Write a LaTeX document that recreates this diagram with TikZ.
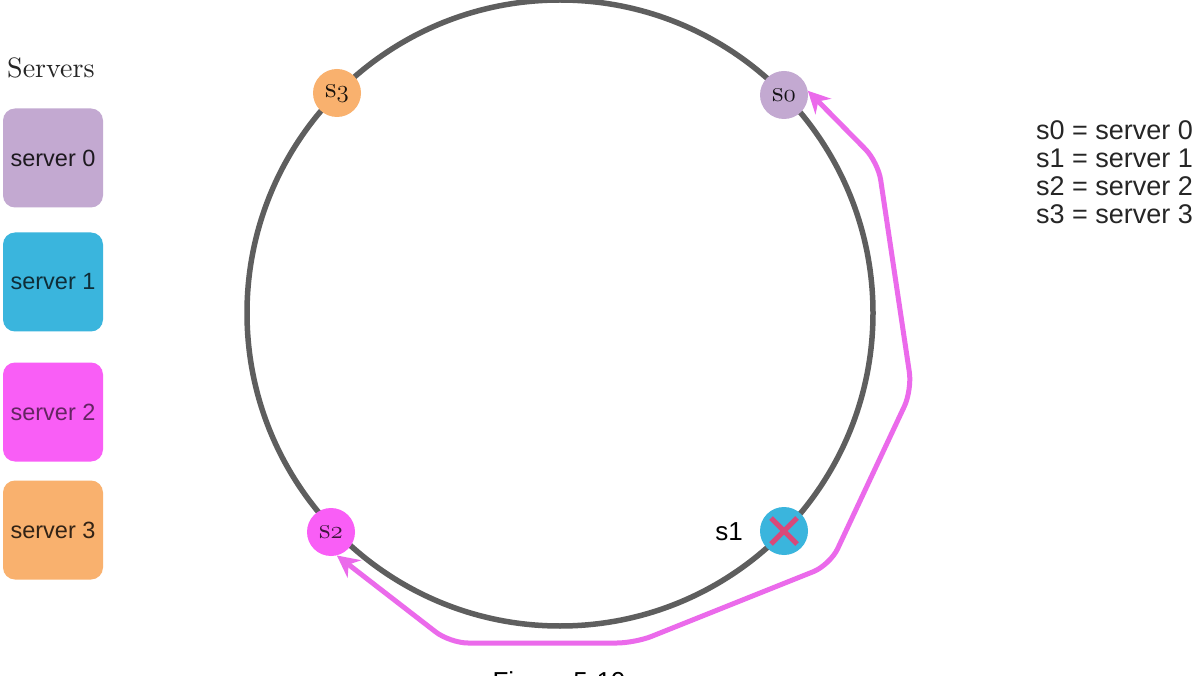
\documentclass[tikz,border=0pt]{standalone}
\usepackage{fontspec}
\newfontfamily\sansf{Liberation Sans}
\newfontfamily\lmten{lmroman10-regular}[Extension=.otf]
\newcommand{\osd}[1]{{\usefont{OML}{cmm}{m}{it}#1}}
\usetikzlibrary{arrows.meta}
\definecolor{clav}{HTML}{C3A9D1}
\definecolor{ccyan}{HTML}{3AB5DD}
\definecolor{cmag}{HTML}{F95EF6}
\definecolor{corg}{HTML}{F9B16E}
\definecolor{cring}{HTML}{5E5E5E}
\definecolor{carrow}{HTML}{EB6AEB}
\definecolor{ccross}{HTML}{D8497A}
\begin{document}
\begin{tikzpicture}[x=1pt,y=-1pt,
  srvbox/.style={rounded corners=12pt, minimum width=100pt, minimum height=99pt, inner sep=0pt,
    font=\sansf\fontsize{23.5}{26}\selectfont},
  ringnode/.style={circle, minimum size=48pt, inner sep=0pt, font=\lmten\fontsize{29}{32}\selectfont},
  legend/.style={anchor=base west, inner sep=0pt, font=\sansf\fontsize{27}{28}\selectfont, text=black!85},
  pinkarrow/.style={draw=carrow, line width=5pt, rounded corners=18pt,
    {Stealth[length=22pt,width=22pt]}-{Stealth[length=22pt,width=22pt]}}
]
\clip (0,0) rectangle (1197,676);
\fill[white] (0,0) rectangle (1197,676);

% title
\node[anchor=base west, inner sep=0pt, font=\lmten\fontsize{28}{32}\selectfont, text=black!85] (title) at (7,78) {Servers};

% server boxes
\node[srvbox, fill=clav, text=clav!15!black] (b0) at (53,158) {server 0};
\node[srvbox, fill=ccyan, text=ccyan!25!black] (b1) at (53,282) {server 1};
\node[srvbox, fill=cmag, text=cmag!40!black] (b2) at (53,412) {server 2};
\node[srvbox, fill=corg, text=corg!20!black] (b3) at (53,530) {server 3};

% ring
\coordinate (c) at (560,313);
\draw[cring, line width=5.5pt] (c) circle[radius=313pt];

% ring nodes
\node[ringnode, fill=corg, text=corg!10!black] (s3) at (337,93) {s\osd{3}};
\node[ringnode, fill=clav, text=clav!10!black] (s0) at (784,95) {s\osd{0}};
\node[ringnode, fill=cmag, text=cmag!25!black] (s2) at (331,532) {s\osd{2}};
\node[ringnode, fill=ccyan] (s1) at (784,531) {};
\node[anchor=base east, inner sep=0pt, font=\sansf\fontsize{26}{28}\selectfont] (s1l) at (743,540) {s1};

% cross on s1
\draw[ccross, line width=5pt] ([shift={(-13,-13)}]s1.center) -- ([shift={(13,13)}]s1.center);
\draw[ccross, line width=5pt] ([shift={(-13,13)}]s1.center) -- ([shift={(13,-13)}]s1.center);

% pink arrow
\draw[pinkarrow] (s2.-76) -- (450,643) -- (635,643) -- (830,565) -- (912,390) -- (878,162) -- (s0.10);

% legend
\node[legend] (l0) at (1036,139.5) {s0 = server 0};
\node[legend] (l1) at (1036,167.5) {s1 = server 1};
\node[legend] (l2) at (1036,195.5) {s2 = server 2};
\node[legend] (l3) at (1036,223.5) {s3 = server 3};

% caption (partly cut off, as in the reference)
\node[anchor=base, inner sep=0pt, font=\sansf\fontsize{26}{28}\selectfont] (cap) at (559,690) {Figure 5-10};
\end{tikzpicture}
\end{document}
